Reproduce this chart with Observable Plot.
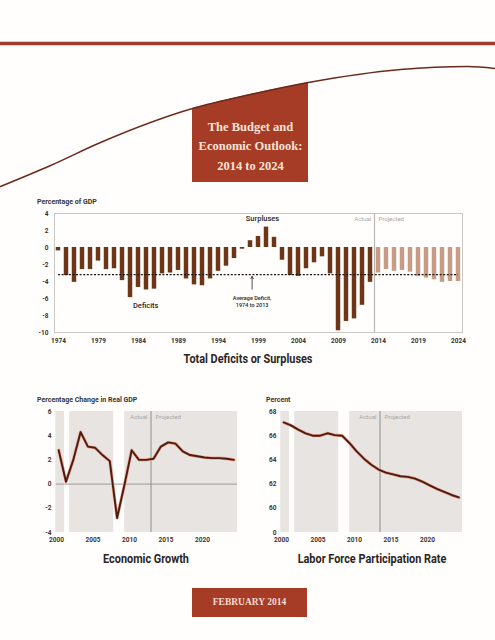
<!DOCTYPE html>
<html>
<head>
<meta charset="utf-8">
<script src="https://cdn.jsdelivr.net/npm/d3@7"></script>
<script src="https://cdn.jsdelivr.net/npm/@observablehq/plot@0.6"></script>
<style>
html,body{margin:0;padding:0;background:#fffefd;}
#page{position:relative;width:495px;height:640px;overflow:hidden;}
#page svg{position:absolute;background:transparent;overflow:visible;}
.t{position:absolute;white-space:nowrap;color:#2b2523;font-family:"Roboto","Liberation Sans",sans-serif;}
.sub{font-size:7px;font-weight:700;color:#3a3432;}
.cap{font-size:12.5px;font-weight:700;text-align:center;transform:translateX(-50%) scaleX(.87);}
#feb{position:absolute;left:192px;top:588px;width:115px;height:29px;background:#a63b26;color:#f6dfd0;
 font:700 9.5px/29px "Liberation Serif",serif;text-align:center;}
</style>
</head>
<body>
<div id="page">
  <div class="t sub" style="left:37px;top:198px">Percentage of GDP</div>
  <div class="t cap" style="left:248px;top:351px">Total Deficits or Surpluses</div>
  <div class="t sub" style="left:37px;top:396px">Percentage Change in Real GDP</div>
  <div class="t sub" style="left:266px;top:396px">Percent</div>
  <div class="t cap" style="left:146px;top:551px">Economic Growth</div>
  <div class="t cap" style="left:372px;top:551px">Labor Force Participation Rate</div>
  <div id="feb">FEBRUARY 2014</div>
</div>
<script>
// Top chart
const deficitYears = d3.range(1974, 2025);
const deficitValues = [-0.4,-3.3,-4.1,-2.6,-2.6,-1.6,-2.6,-2.5,-3.9,-5.9,-4.7,-5.0,-4.9,-3.1,-3.0,-2.7,-3.7,-4.4,-4.5,-3.7,-2.8,-2.2,-1.3,-0.2,0.8,1.3,2.4,1.2,-1.5,-3.3,-3.4,-2.5,-1.8,-1.1,-3.1,-9.8,-8.7,-8.4,-6.8,-4.1,-3.0,-2.6,-2.8,-2.7,-2.9,-3.4,-3.6,-3.8,-4.1,-4.0,-4.0];
const averageDeficit = -3.2;
const deficitTicks = [1974,1979,1984,1989,1994,1999,2004,2009,2014,2019,2024];
const deficitYTicks = [4,2,0,-2,-4,-6,-8,-10];
// Lower charts
const lineYears = d3.range(2000, 2025);
const gdpGrowth = [2.8,0.2,2.0,4.3,3.1,3.0,2.4,1.9,-2.8,-0.1,2.8,2.0,2.0,2.1,3.1,3.45,3.35,2.7,2.4,2.3,2.2,2.15,2.15,2.1,2.0];
const laborForce = [67.1,66.85,66.5,66.2,66.0,66.0,66.2,66.05,66.0,65.4,64.7,64.1,63.6,63.2,62.95,62.8,62.65,62.6,62.45,62.2,61.9,61.6,61.35,61.1,60.9];
const lineTicks = [2000,2005,2010,2015,2020];
const gdpYTicks = [6,4,2,0,-2,-4];
const laborYTicks = [68,66,64,62,60,58];
const laborYLabels = ["68","66","64","62","60","0"];
const shadeStart = [1999.9,2001.8,2009.34];
const shadeEnd = [2001.1,2007.84,2024.8];
// Banner
const curveX = [0,50,100,192,250,308,400,467,495];
const curveY = [186,165,142,108,94,82,69,66,68];
const boxX = [192,250,308];
const boxCurve = [108,94,82];
const boxBottom = 182;
const ruleLevel = 43;
const titleLines = ["The Budget and","Economic Outlook:","2014 to 2024"];
const titleLevels = [126,145,165];
const titleCenter = 250;

const font = '"Roboto","Liberation Sans",sans-serif';
const brick = "#a63b26", ink = "#3a3432", frameGrey = "#c9c7c6", labelGrey = "#a9a6a4";
const page = document.getElementById("page");
function place(svg, left, top){ svg.style.left = left+"px"; svg.style.top = top+"px"; page.appendChild(svg); }

// Banner plot
place(Plot.plot({
  width:495, height:190, margin:0,
  style:{background:"transparent"},
  x:{domain:[0,495], axis:null},
  y:{domain:[190,0], axis:null},
  marks:[
    Plot.ruleY([ruleLevel],{stroke:"#a03c2a",strokeWidth:3.5}),
    Plot.areaY(boxX,{x:d=>d,y1:boxBottom,y2:(d,i)=>boxCurve[i],fill:brick,curve:"monotone-x"}),
    Plot.line(curveX,{x:d=>d,y:(d,i)=>curveY[i],stroke:"#6b2a1e",strokeWidth:1.5,curve:"monotone-x"}),
    Plot.text(titleLines,{x:titleCenter,y:(d,i)=>titleLevels[i],text:d=>d,fill:"#f8e4d6",fontSize:12.5,fontWeight:700,fontFamily:'"Liberation Serif",serif'})
  ]
}),0,0);

// Top chart
const deficitRows = deficitYears.map((year,i)=>({year,value:deficitValues[i]}));
place(Plot.plot({
  width:495, height:160, marginLeft:54, marginRight:33, marginTop:18, marginBottom:23,
  style:{background:"transparent",fontFamily:font},
  x:{domain:[1973.5,2024.5]},
  y:{domain:[-10,4]},
  marks:[
    Plot.frame({stroke:frameGrey,strokeWidth:1}),
    Plot.rectY(deficitRows,{x1:d=>d.year-0.28,x2:d=>d.year+0.28,y1:0,y2:"value",
      fill:d=>d.year>2013?"#c79c86":"#6e3618"}),
    Plot.ruleX([2013.5],{stroke:"#b9b7b6",strokeWidth:1.2}),
    Plot.ruleY([averageDeficit],{x1:1974,x2:2024,stroke:"#1a1614",strokeWidth:1.3,strokeDasharray:"2 1.6"}),
    Plot.arrow([0],{x1:1998.2,x2:1998.2,y1:-4.9,y2:-3.4,stroke:"#2b2523",strokeWidth:.8,headLength:5}),
    Plot.text(["Average Deficit,\n1974 to 2013"],{x:1998.2,y:-6.3,fontSize:5.5,fill:"#2b2523",fontWeight:500,lineHeight:1.3}),
    Plot.text(["Surpluses"],{x:1999.5,y:3.4,fontSize:7.5,fontWeight:500,fill:"#2b2523"}),
    Plot.text(["Deficits"],{x:1984.9,y:-6.8,fontSize:7.5,fontWeight:500,fill:"#2b2523"}),
    Plot.text(["Actual"],{x:2013.1,y:3.3,textAnchor:"end",fontSize:6,fill:labelGrey}),
    Plot.text(["Projected"],{x:2014,y:3.3,textAnchor:"start",fontSize:6,fill:labelGrey}),
    Plot.axisX({ticks:deficitTicks,tickFormat:d=>String(d),tickSize:0,tickPadding:6,fontSize:6.5,fontWeight:700,fill:ink,label:null}),
    Plot.axisY({ticks:deficitYTicks,tickFormat:d=>String(d),tickSize:0,tickPadding:6,fontSize:6.5,fontWeight:700,fill:ink,label:null})
  ]
}),0,195);

// Shared lower panel
function panel(values, yDomain, yTicks, yFormat, divider, extras, left){
  const rows = lineYears.map((year,i)=>({x:year+0.3,v:values[i]}));
  place(Plot.plot({
    width:left.w, height:160, marginLeft:left.ml, marginRight:left.mr, marginTop:21, marginBottom:18,
    style:{background:"transparent",fontFamily:font},
    x:{domain:[2000,2024.8]},
    y:{domain:yDomain},
    marks:[
      Plot.rect(shadeStart,{x1:d=>d,x2:(d,i)=>shadeEnd[i],fill:"#e8e4e1"}),
      ...extras,
      Plot.ruleX([divider],{stroke:"#8f8c8a",strokeWidth:1}),
      Plot.text(["Actual"],{x:divider-0.5,y:yDomain[1]-(yDomain[1]-yDomain[0])*0.05,textAnchor:"end",fontSize:6,fill:labelGrey}),
      Plot.text(["Projected"],{x:divider+0.6,y:yDomain[1]-(yDomain[1]-yDomain[0])*0.05,textAnchor:"start",fontSize:6,fill:labelGrey}),
      Plot.line(rows,{x:"x",y:"v",stroke:"#eda58e",strokeWidth:3.2,strokeLinejoin:"round"}),
      Plot.line(rows,{x:"x",y:"v",stroke:"#4a1c14",strokeWidth:1.9,strokeLinejoin:"round"}),
      Plot.axisX({ticks:lineTicks,tickFormat:d=>String(d),tickSize:0,tickPadding:5,fontSize:6.5,fontWeight:700,fill:ink,label:null}),
      Plot.axisY({ticks:yTicks,tickFormat:yFormat,tickSize:0,tickPadding:5,fontSize:6.5,fontWeight:700,fill:ink,label:null})
    ]
  }),0,390);
}
panel(gdpGrowth,[-4,6],gdpYTicks,d=>String(d),2012.95,[Plot.ruleY([0],{stroke:"#9b9896",strokeWidth:1})],{w:240,ml:56,mr:3});
panel(laborForce,[58,68],laborYTicks,d=>laborYLabels[laborYTicks.indexOf(d)],2013.5,[],{w:470,ml:281,mr:8});
</script>
</body>
</html>
